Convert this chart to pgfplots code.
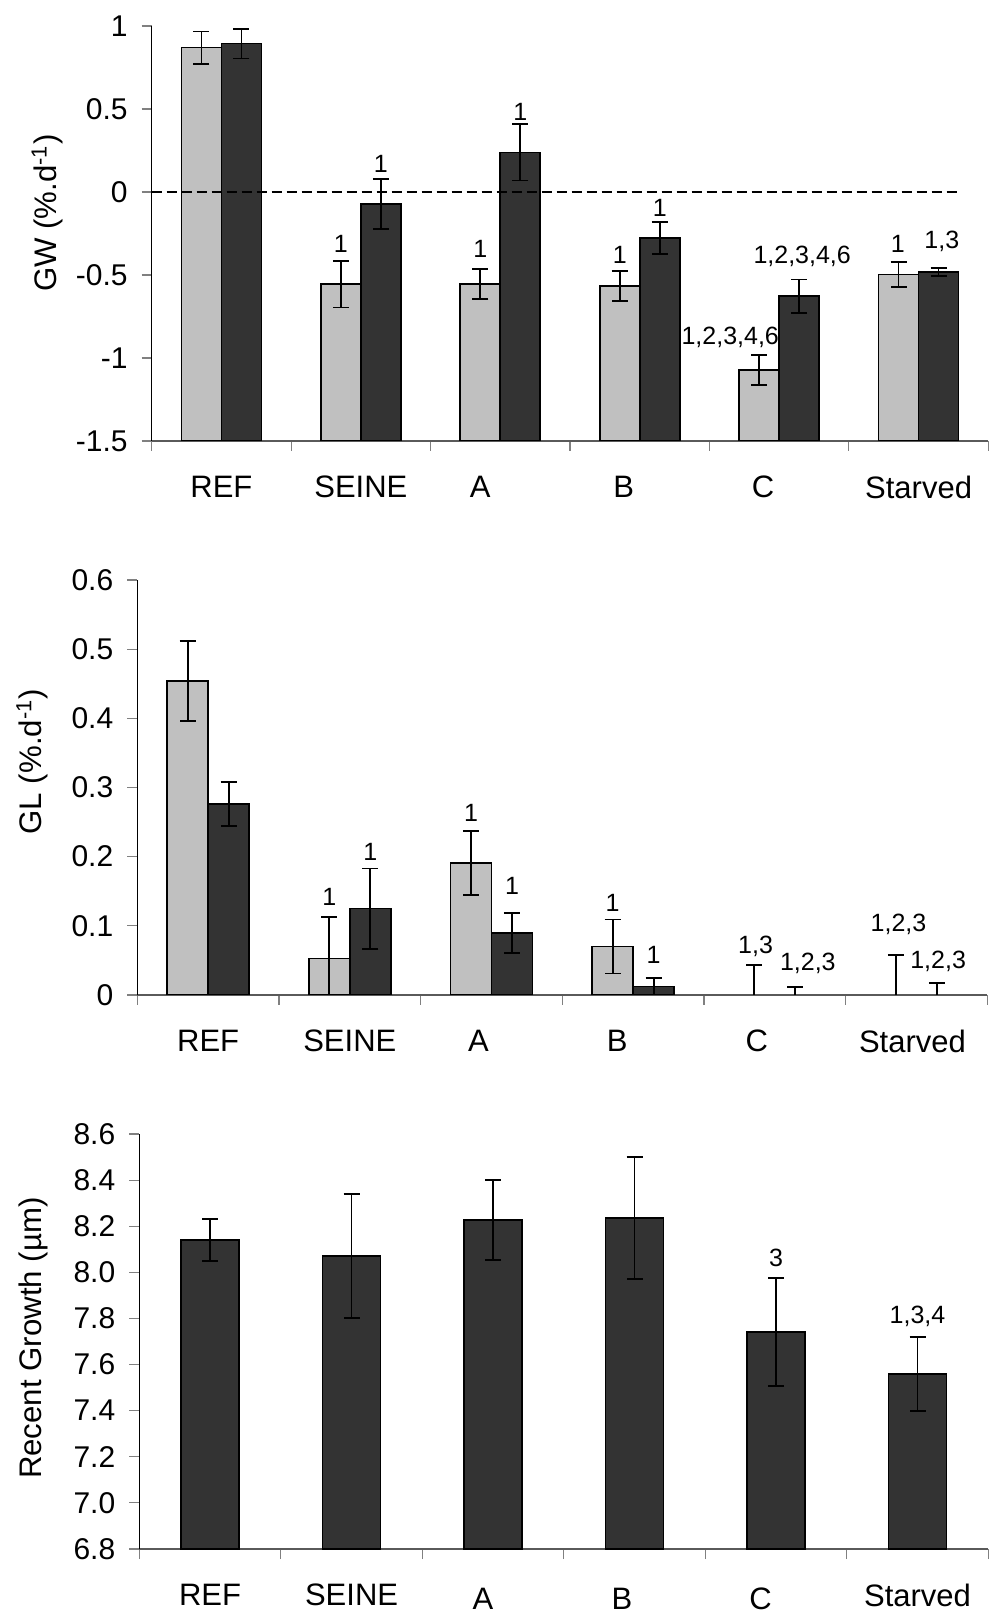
\documentclass[border=0pt]{standalone}
\usepackage{pgfplots}
\pgfplotsset{compat=1.18}
\usepackage{pgfplotstable}
\usepackage{fontspec}
\setmainfont{Liberation Sans}
\definecolor{lightbar}{HTML}{C0C0C0}
\definecolor{darkbar}{HTML}{333333}
\definecolor{tickgray}{HTML}{808080}

% GW (%.d-1): light and dark series with error bars
\pgfplotstableread{
x light elight dark edark
0  0.870 0.097  0.894 0.090
1 -0.556 0.140 -0.074 0.150
2 -0.556 0.090  0.239 0.170
3 -0.566 0.090 -0.279 0.097
4 -1.074 0.090 -0.627 0.100
5 -0.496 0.075 -0.482 0.024
}\gwdata
% GL (%.d-1)
\pgfplotstableread{
x light elight dark edark
0 0.454 0.058 0.276 0.032
1 0.053 0.060 0.125 0.058
2 0.191 0.046 0.090 0.029
3 0.070 0.039 0.012 0.012
4 0.000 0.043 0.000 0.012
5 0.000 0.058 0.000 0.017
}\gldata
% Recent growth (um)
\pgfplotstableread{
x rg erg
0 8.140 0.091
1 8.071 0.270
2 8.228 0.173
3 8.236 0.265
4 7.741 0.234
5 7.559 0.160
}\rgdata

\tikzset{ann/.style={font=\fontsize{12.5}{14}\selectfont, inner sep=0pt, anchor=center}}
\newcommand{\lft}[2]{#1\kern#2}
\pgfplotsset{
  panel/.style={
    scale only axis,
    anchor=south west,
    axis x line*=bottom, axis y line*=left,
    x axis line style={draw=tickgray!70!black, line width=0.6pt},
    y axis line style={draw=black, line width=0.6pt},
    tick align=outside,
    major tick length=5pt,
    tick style={draw=tickgray, line width=0.6pt},
    xmin=-0.5, xmax=5.5,
    xtick={-0.5,0.5,1.5,2.5,3.5,4.5,5.5},
    x tick label as interval,
    xticklabel style={font=\fontsize{15.5}{18}\selectfont, yshift=-9pt},
    yticklabel style={font=\fontsize{15}{18}\selectfont, xshift=-3.5pt},
    ybar,
    ylabel style={font=\fontsize{15.6}{18}\selectfont, anchor=center},
    error bars/error bar style={draw=black, line width=0.9pt},
    error bars/error mark options={rotate=90, draw=black, line width=0.9pt, mark size=4pt},
  },
  lightbars/.style={fill=lightbar, draw=black, line width=0.8pt},
  darkbars/.style={fill=darkbar, draw=black, line width=0.8pt},
}

\begin{document}
\begin{tikzpicture}
\useasboundingbox (0,0) rectangle (494.5pt,807.5pt);

% ---------------- Top panel: GW ----------------
\begin{axis}[panel,
  at={(75.85pt,587pt)},
  width=418.3pt, height=207.5pt,
  ymin=0, ymax=2.5,
  ytick={0,0.5,1,1.5,2,2.5},
  yticklabels={-1.5,-1,-0.5,0,0.5,1},
  xticklabels={REF,SEINE,\lft{A}{20pt},\lft{B}{16pt},\lft{C}{16pt},Starved},
  ylabel={GW (\%.d\textsuperscript{-1})},
  ylabel style={at={(axis description cs:-0.1246,0.549)}},
]
\addplot[lightbars, bar width=20pt, bar shift=-10pt,
  error bars/.cd, y dir=both, y explicit]
  table[x=x, y expr=\thisrow{light}+1.5, y error=elight] {\gwdata};
\addplot[darkbars, bar width=20pt, bar shift=10pt,
  error bars/.cd, y dir=both, y explicit]
  table[x=x, y expr=\thisrow{dark}+1.5, y error=edark] {\gwdata};
\draw[black, line width=1pt, dash pattern=on 5pt off 2.5pt]
  (axis cs:-0.5,1.5) -- (axis cs:5.284,1.5);
\node[ann] at ([xshift=-10pt]axis cs:1,1.185) {1};
\node[ann] at ([xshift=10pt]axis cs:1,1.672) {1};
\node[ann] at ([xshift=-10pt]axis cs:2,1.155) {1};
\node[ann] at ([xshift=10pt]axis cs:2,1.983) {1};
\node[ann] at ([xshift=-10pt]axis cs:3,1.120) {1};
\node[ann] at ([xshift=10pt]axis cs:3,1.402) {1};
\node[ann] at (axis cs:3.649,0.625) {1,2,3,4,6};
\node[ann] at (axis cs:4.165,1.114) {1,2,3,4,6};
\node[ann] at (axis cs:4.851,1.185) {1};
\node[ann] at (axis cs:5.167,1.205) {1,3};
\end{axis}

% ---------------- Middle panel: GL ----------------
\begin{axis}[panel,
  at={(68.65pt,310pt)},
  width=425pt, height=207.5pt,
  ymin=0, ymax=0.6,
  ytick={0,0.1,0.2,0.3,0.4,0.5,0.6},
  yticklabels={0,0.1,0.2,0.3,0.4,0.5,0.6},
  xticklabels={REF,SEINE,\lft{A}{13pt},\lft{B}{16pt},\lft{C}{18pt},\lft{Starved}{4pt}},
  ylabel={GL (\%.d\textsuperscript{-1})},
  ylabel style={at={(axis description cs:-0.1235,0.562)}},
]
\addplot[lightbars, bar width=20.5pt, bar shift=-10.25pt,
  restrict x to domain=0:3,
  error bars/.cd, y dir=both, y explicit]
  table[x=x, y=light, y error=elight] {\gldata};
\addplot[darkbars, bar width=20.5pt, bar shift=10.25pt,
  restrict x to domain=0:3,
  error bars/.cd, y dir=both, y explicit]
  table[x=x, y=dark, y error=edark] {\gldata};
\addplot[draw=none, fill=none, bar width=20.5pt, bar shift=-10.25pt,
  restrict x to domain=4:5,
  error bars/.cd, y dir=both, y explicit]
  table[x=x, y=light, y error=elight] {\gldata};
\addplot[draw=none, fill=none, bar width=20.5pt, bar shift=10.25pt,
  restrict x to domain=4:5,
  error bars/.cd, y dir=both, y explicit]
  table[x=x, y=dark, y error=edark] {\gldata};
\node[ann] at ([xshift=-10.25pt]axis cs:1,0.142) {1};
\node[ann] at ([xshift=10.25pt]axis cs:1,0.207) {1};
\node[ann] at ([xshift=-10.25pt]axis cs:2,0.263) {1};
\node[ann] at ([xshift=10.25pt]axis cs:2,0.157) {1};
\node[ann] at ([xshift=-10.25pt]axis cs:3,0.1325) {1};
\node[ann] at ([xshift=10.25pt]axis cs:3,0.0578) {1};
\node[ann] at (axis cs:3.864,0.070) {1,3};
\node[ann] at (axis cs:4.233,0.0458) {1,2,3};
\node[ann] at (axis cs:4.873,0.102) {1,2,3};
\node[ann] at (axis cs:5.153,0.049) {1,2,3};
\end{axis}

% ---------------- Bottom panel: Recent growth ----------------
\begin{axis}[panel,
  at={(69.65pt,33pt)},
  width=424.5pt, height=207.5pt,
  ymin=6.8, ymax=8.6,
  ytick={6.8,7.0,7.2,7.4,7.6,7.8,8.0,8.2,8.4,8.6},
  yticklabels={6.8,7.0,7.2,7.4,7.6,7.8,8.0,8.2,8.4,8.6},
  xticklabels={REF,SEINE,\raisebox{-2pt}[\height]{\lft{A}{10pt}},\raisebox{-2pt}[\height]{\lft{B}{12.5pt}},\raisebox{-2pt}[\height]{\lft{C}{15.5pt}},Starved},
  ylabel={Recent Growth (µm)},
  ylabel style={at={(axis description cs:-0.1249,0.508)}},
]
\addplot[darkbars, bar width=29pt, bar shift=0pt,
  error bars/.cd, y dir=both, y explicit]
  table[x=x, y=rg, y error=erg] {\rgdata};
\node[ann] at (axis cs:4,8.062) {3};
\node[ann] at (axis cs:5,7.808) {1,3,4};
\end{axis}
\end{tikzpicture}
\end{document}
